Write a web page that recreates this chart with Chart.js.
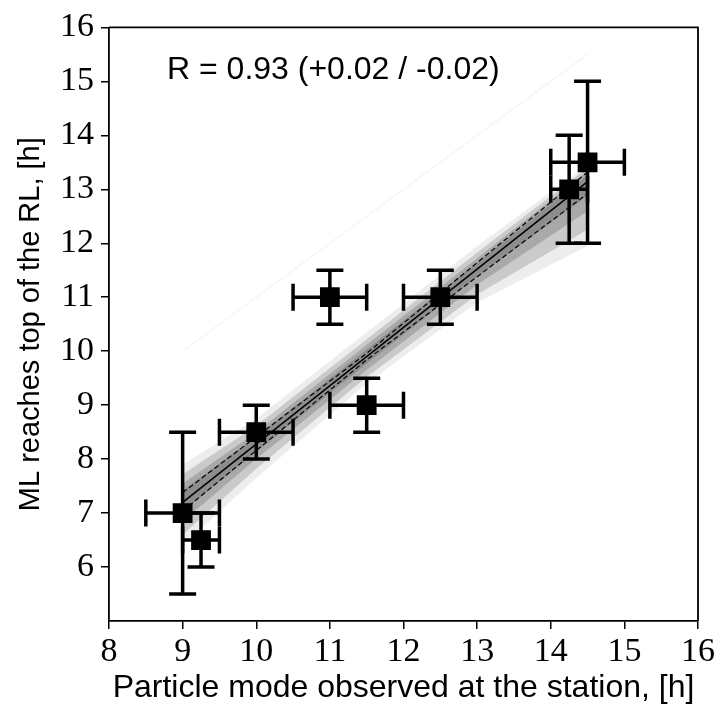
<!DOCTYPE html>
<html>
<head>
<meta charset="utf-8">
<script src="https://cdn.jsdelivr.net/npm/chart.js@4.4.1/dist/chart.umd.min.js"></script>
<style>
  html, body { margin: 0; padding: 0; background: #fff; }
  #wrap { width: 718px; height: 713px; }
</style>
</head>
<body>
<div id="wrap"><canvas id="chart"></canvas></div>
<script>
// observations (x: particle mode at station, y: ML reaches top of RL), hours
const obsX = [9, 9.25, 10, 11, 11.5, 12.5, 14.25, 14.5];
const obsY = [7, 6.5, 8.5, 11, 9, 11, 13, 13.5];
const errX = [0.5, 0.25, 0.5, 0.5, 0.5, 0.5, 0.25, 0.5];
const errY = [1.5, 0.5, 0.5, 0.5, 0.5, 0.5, 1, 1.5];

// regression fit and its confidence lines
const fitX = [9, 14.5];
const fitY = [7.2, 13.14];
const confX = [9, 11.5, 14.5];
const confUpper = [7.38, 9.96, 13.32];
const confLower = [7.04, 9.84, 12.92];

// bootstrap spread, read as nested bands (outer -> inner)
const bandX = [9, 10, 11.5, 13, 14.5];
const bandFaintUp = [7.9, 8.75, 10.35, 11.95, 13.45];
const bandFaintLo = [6.4, 7.65, 9.4, 10.9, 11.95];
const bandOuterUp = [7.72, 8.62, 10.22, 11.83, 13.4];
const bandOuterLo = [6.6, 7.82, 9.52, 11.05, 12.25];
const bandMidUp = [7.55, 8.5, 10.12, 11.72, 13.34];
const bandMidLo = [6.85, 8.0, 9.65, 11.23, 12.6];
const bandInnerUp = [7.42, 8.42, 10.03, 11.64, 13.27];
const bandInnerLo = [7.02, 8.13, 9.77, 11.38, 12.88];

// one stray bootstrap line
const strayX = [9, 14.5];
const strayY = [10, 15.5];

const xTicks = [8, 9, 10, 11, 12, 13, 14, 15, 16];
const yTicks = [6, 7, 8, 9, 10, 11, 12, 13, 14, 15, 16];
const rLabel = 'R = 0.93 (+0.02 / -0.02)';

const pts = (xs, ys) => xs.map((x, i) => ({ x: x, y: ys[i] }));

function bandPair(up, lo, alpha) {
    return [
        { type: 'line', data: pts(bandX, up), borderWidth: 0, pointRadius: 0, fill: false },
        { type: 'line', data: pts(bandX, lo), borderWidth: 0, pointRadius: 0,
          fill: '-1', backgroundColor: 'rgba(0,0,0,' + alpha + ')' }
    ];
}

const frame = {
    id: 'frame',
    afterDraw(chart) {
        const { ctx, chartArea: a } = chart;
        ctx.save();
        ctx.strokeStyle = '#000';
        ctx.lineWidth = 1.8;
        ctx.beginPath();
        ctx.moveTo(a.left, a.top);
        ctx.lineTo(a.right, a.top);
        ctx.lineTo(a.right, a.bottom);
        ctx.stroke();
        ctx.font = '32px "Liberation Sans", Arial, sans-serif';
        ctx.fillStyle = '#000';
        ctx.textBaseline = 'middle';
        ctx.fillText(rLabel, 167, 70);
        ctx.restore();
    }
};

const errorBars = {
    id: 'errorBars',
    afterDatasetsDraw(chart) {
        const { ctx, scales: { x, y } } = chart;
        const cap = 13.5;
        ctx.save();
        ctx.strokeStyle = '#000';
        ctx.lineWidth = 3.5;
        obsX.forEach((vx, i) => {
            const px = x.getPixelForValue(vx);
            const py = y.getPixelForValue(obsY[i]);
            const x0 = x.getPixelForValue(vx - errX[i]);
            const x1 = x.getPixelForValue(vx + errX[i]);
            const y0 = y.getPixelForValue(obsY[i] - errY[i]);
            const y1 = y.getPixelForValue(obsY[i] + errY[i]);
            ctx.beginPath();
            ctx.moveTo(x0, py); ctx.lineTo(x1, py);
            ctx.moveTo(x0, py - cap); ctx.lineTo(x0, py + cap);
            ctx.moveTo(x1, py - cap); ctx.lineTo(x1, py + cap);
            ctx.moveTo(px, y0); ctx.lineTo(px, y1);
            ctx.moveTo(px - cap, y0); ctx.lineTo(px + cap, y0);
            ctx.moveTo(px - cap, y1); ctx.lineTo(px + cap, y1);
            ctx.stroke();
        });
        ctx.restore();
    }
};

new Chart(document.getElementById('chart'), {
    type: 'scatter',
    data: {
        datasets: [
            ...bandPair(bandFaintUp, bandFaintLo, 0.07),
            ...bandPair(bandOuterUp, bandOuterLo, 0.15),
            ...bandPair(bandMidUp, bandMidLo, 0.17),
            ...bandPair(bandInnerUp, bandInnerLo, 0.17),
            { type: 'line', data: pts(strayX, strayY), borderColor: 'rgba(0,0,0,0.03)',
              borderWidth: 2, pointRadius: 0, fill: false },
            { type: 'line', data: pts(confX, confUpper), borderColor: '#000', borderWidth: 1.2,
              borderDash: [5, 3], pointRadius: 0, fill: false },
            { type: 'line', data: pts(confX, confLower), borderColor: '#000', borderWidth: 1.2,
              borderDash: [5, 3], pointRadius: 0, fill: false },
            { type: 'line', data: pts(fitX, fitY), borderColor: '#000', borderWidth: 1.6,
              pointRadius: 0, fill: false },
            { data: pts(obsX, obsY), pointStyle: 'rect', pointRadius: 14, pointHoverRadius: 14,
              backgroundColor: '#000', borderColor: '#000', borderWidth: 0 }
        ]
    },
    options: {
        responsive: true,
        maintainAspectRatio: false,
        animation: false,
        events: [],
        layout: { padding: { top: 21, right: 17, left: 0, bottom: 0 } },
        plugins: { legend: { display: false }, tooltip: { enabled: false } },
        scales: {
            x: {
                type: 'linear', min: 8, max: 16,
                afterFit(s) { s.height = 92; },
                afterBuildTicks(s) { s.ticks = xTicks.map(v => ({ value: v })); },
                grid: { drawOnChartArea: false, drawTicks: true, tickLength: 8, color: '#000', lineWidth: 1.5 },
                border: { display: true, color: '#000', width: 1.8 },
                ticks: { color: '#000', padding: 3, maxRotation: 0,
                         font: { family: '"Liberation Serif", "Times New Roman", serif', size: 34 } },
                title: { display: true, text: 'Particle mode observed at the station, [h]', color: '#000',
                         padding: { top: 0, bottom: 6 },
                         font: { family: '"Liberation Sans", Arial, sans-serif', size: 32 } }
            },
            y: {
                type: 'linear', min: 5, max: 16,
                afterFit(s) { s.width = 109; },
                afterBuildTicks(s) { s.ticks = yTicks.map(v => ({ value: v })); },
                grid: { drawOnChartArea: false, drawTicks: true, tickLength: 8, color: '#000', lineWidth: 1.5 },
                border: { display: true, color: '#000', width: 1.8 },
                ticks: { color: '#000', padding: 7,
                         font: { family: '"Liberation Serif", "Times New Roman", serif', size: 34 } },
                title: { display: true, text: 'ML reaches top of the RL, [h]', color: '#000',
                         padding: { top: 14, bottom: 0 },
                         font: { family: '"Liberation Sans", Arial, sans-serif', size: 29 } }
            }
        }
    },
    plugins: [errorBars, frame]
});
</script>
</body>
</html>
